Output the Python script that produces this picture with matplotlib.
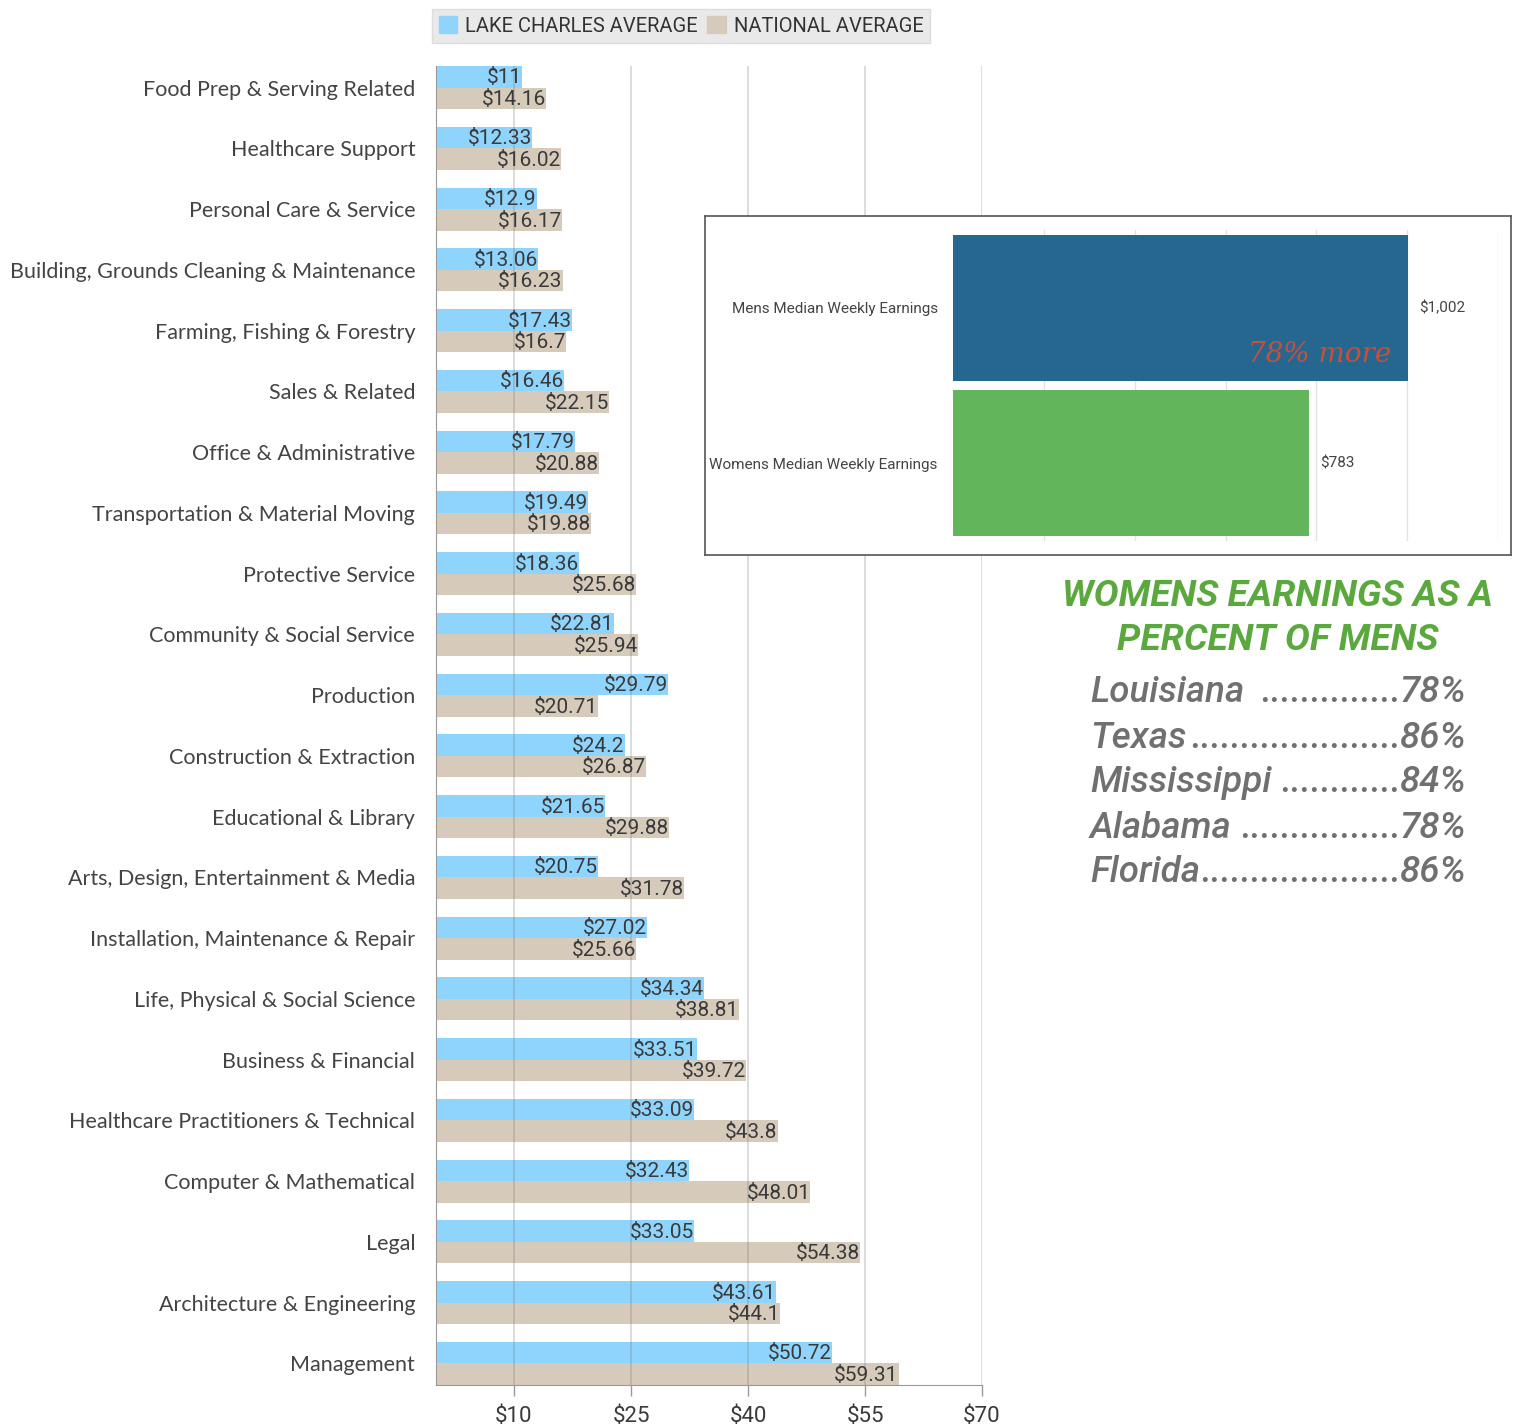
import matplotlib
matplotlib.use("Agg")
import matplotlib.pyplot as plt
from matplotlib import font_manager
from matplotlib.patches import Patch

# hourly wages by occupation group
categorias = [
    "Food Prep & Serving Related", "Healthcare Support", "Personal Care & Service",
    "Building, Grounds Cleaning & Maintenance", "Farming, Fishing & Forestry",
    "Sales & Related", "Office & Administrative", "Transportation & Material Moving",
    "Protective Service", "Community & Social Service", "Production",
    "Construction & Extraction", "Educational & Library",
    "Arts, Design, Entertainment & Media", "Installation, Maintenance & Repair",
    "Life, Physical & Social Science", "Business & Financial",
    "Healthcare Practitioners & Technical", "Computer & Mathematical", "Legal",
    "Architecture & Engineering", "Management",
]
lake_charles = [11, 12.33, 12.9, 13.06, 17.43, 16.46, 17.79, 19.49, 18.36, 22.81, 29.79,
                24.2, 21.65, 20.75, 27.02, 34.34, 33.51, 33.09, 32.43, 33.05, 43.61, 50.72]
nacional = [14.16, 16.02, 16.17, 16.23, 16.7, 22.15, 20.88, 19.88, 25.68, 25.94, 20.71,
            26.87, 29.88, 31.78, 25.66, 38.81, 39.72, 43.8, 48.01, 54.38, 44.1, 59.31]
ticks_x = [10, 25, 40, 55, 70]

# weekly earnings by sex
sexos = ["Mens Median Weekly Earnings", "Womens Median Weekly Earnings"]
semanal = [1002, 783]

# womens earnings as percent of mens
estados = ["Louisiana", "Texas", "Mississippi", "Alabama", "Florida"]
porcentaje = [78, 86, 84, 78, 86]

disponibles = {f.name for f in font_manager.fontManager.ttflist}
angosta = "Liberation Sans Narrow" if "Liberation Sans Narrow" in disponibles else "Roboto"

AZUL = "#8fd4fc"
BEIGE = "#d6cabb"
TEXTO = "#3a3a3a"

fig = plt.figure(figsize=(15.17, 14.26), dpi=100)
W, H = 1517, 1426


def caja(x0, y0, x1, y1):
    # pixel box -> figure fraction rect
    return [x0 / W, 1 - y1 / H, (x1 - x0) / W, (y1 - y0) / H]


# ---- main bar chart ----
ax = fig.add_axes(caja(436, 66, 982, 1385))
n = len(categorias)
alto = 0.355
pos = list(range(n))
ax.barh([p - alto / 2 for p in pos], lake_charles, height=alto, color=AZUL, zorder=2)
ax.barh([p + alto / 2 for p in pos], nacional, height=alto, color=BEIGE, zorder=2)

for p, a, b in zip(pos, lake_charles, nacional):
    ax.text(a, p - alto / 2 + 0.02, "${:g}".format(a), ha="right", va="center",
            fontsize=15, color=TEXTO, family=angosta, zorder=4)
    ax.text(b, p + alto / 2 + 0.02, "${:g}".format(b), ha="right", va="center",
            fontsize=15, color=TEXTO, family=angosta, zorder=4)

ax.set_xlim(0, 70)
ax.set_ylim(n - 1 + alto, -alto)
for t in ticks_x:
    ax.axvline(t, color="#777777", alpha=0.3, lw=1.2, zorder=3)
ax.set_xticks(ticks_x)
ax.set_xticklabels(["${}".format(t) for t in ticks_x], fontsize=16, color=TEXTO,
                   family=angosta)
ax.tick_params(axis="x", length=8, width=1, color="#999999", pad=7)
ax.set_yticks(pos)
ax.set_yticklabels(categorias, fontsize=15.5, color="#444444", family="Lato")
ax.tick_params(axis="y", length=0, pad=15)
for s in ["top", "right"]:
    ax.spines[s].set_visible(False)
ax.spines["left"].set_color("#999999")
ax.spines["bottom"].set_color("#999999")

fig.legend(handles=[Patch(color=AZUL, label="LAKE CHARLES AVERAGE"),
                    Patch(color=BEIGE, label="NATIONAL AVERAGE")],
           loc="center", bbox_to_anchor=(681 / W, 1 - 26 / H), ncol=2,
           frameon=True, fancybox=False, facecolor="#e9e9e9", edgecolor="#dddddd",
           framealpha=1, handlelength=0.9, handleheight=0.9, handletextpad=0.4,
           columnspacing=0.5, borderpad=0.35,
           prop={"family": angosta, "size": 14.5}, labelcolor="#333333")

# ---- weekly earnings box ----
marco = fig.add_axes(caja(705, 216, 1511, 555), zorder=5)
marco.set_xticks([])
marco.set_yticks([])
marco.set_facecolor("white")
for s in marco.spines.values():
    s.set_color("#555555")
    s.set_linewidth(1.2)

ax2 = fig.add_axes(caja(953, 230, 1498, 541), zorder=6)
ax2.patch.set_alpha(0)
ax2.barh([0, 1], semanal, height=0.94, color=["#266790", "#62b55b"], zorder=2)
ax2.set_xlim(0, 1200)
ax2.set_ylim(1.5, -0.5)
for t in range(200, 1201, 200):
    ax2.axvline(t, color="#e2e2e2", lw=1, zorder=1)
ax2.set_xticks([])
ax2.set_yticks([0, 1])
ax2.set_yticklabels(sexos, fontsize=11, color="#444444", family=angosta)
ax2.tick_params(axis="y", length=0, pad=11)
for s in ax2.spines.values():
    s.set_visible(False)
for i, v in enumerate(semanal):
    ax2.text(v + 25, i, "${:,}".format(v), ha="left", va="center", fontsize=11,
             color="#444444", family=angosta)
ax2.text(965, 0.3, "78% more", ha="right", va="center", fontsize=20,
         color="#c94f3a", family="DejaVu Serif", style="italic", zorder=4)

# ---- percent list ----
fig.text(1278 / W, 1 - 596 / H, "WOMENS EARNINGS AS A", ha="center", va="center",
         fontsize=26.8, color="#5aa83e", family="Roboto", weight="bold", style="italic")
fig.text(1278 / W, 1 - 640 / H, "PERCENT OF MENS", ha="center", va="center",
         fontsize=26.8, color="#5aa83e", family="Roboto", weight="bold", style="italic")

fig.canvas.draw()
rend = fig.canvas.get_renderer()
for i, (e, p) in enumerate(zip(estados, porcentaje)):
    y = 1 - (693 + 45 * i) / H
    estilo = dict(va="center", fontsize=26.5, color="#707070", family="Roboto",
                  weight="medium", style="italic")
    nombre = fig.text(1090 / W, y, e, ha="left", **estilo)
    pct = fig.text(1466 / W, y, "{}%".format(p), ha="right", **estilo)
    x_fin = nombre.get_window_extent(rend).x1
    x_ini = pct.get_window_extent(rend).x0
    # dot leader runs right up to the percent
    hueco = 8 if e in ("Louisiana", "Mississippi", "Alabama") else 0
    puntos = fig.text((x_ini + 2) / W, y, ".", ha="right", **estilo)
    cuenta = 1
    while True:
        puntos.set_text("." * (cuenta + 1))
        if puntos.get_window_extent(rend).x0 < x_fin + hueco:
            puntos.set_text("." * cuenta)
            break
        cuenta += 1

fig.savefig("out.png", dpi=100)
